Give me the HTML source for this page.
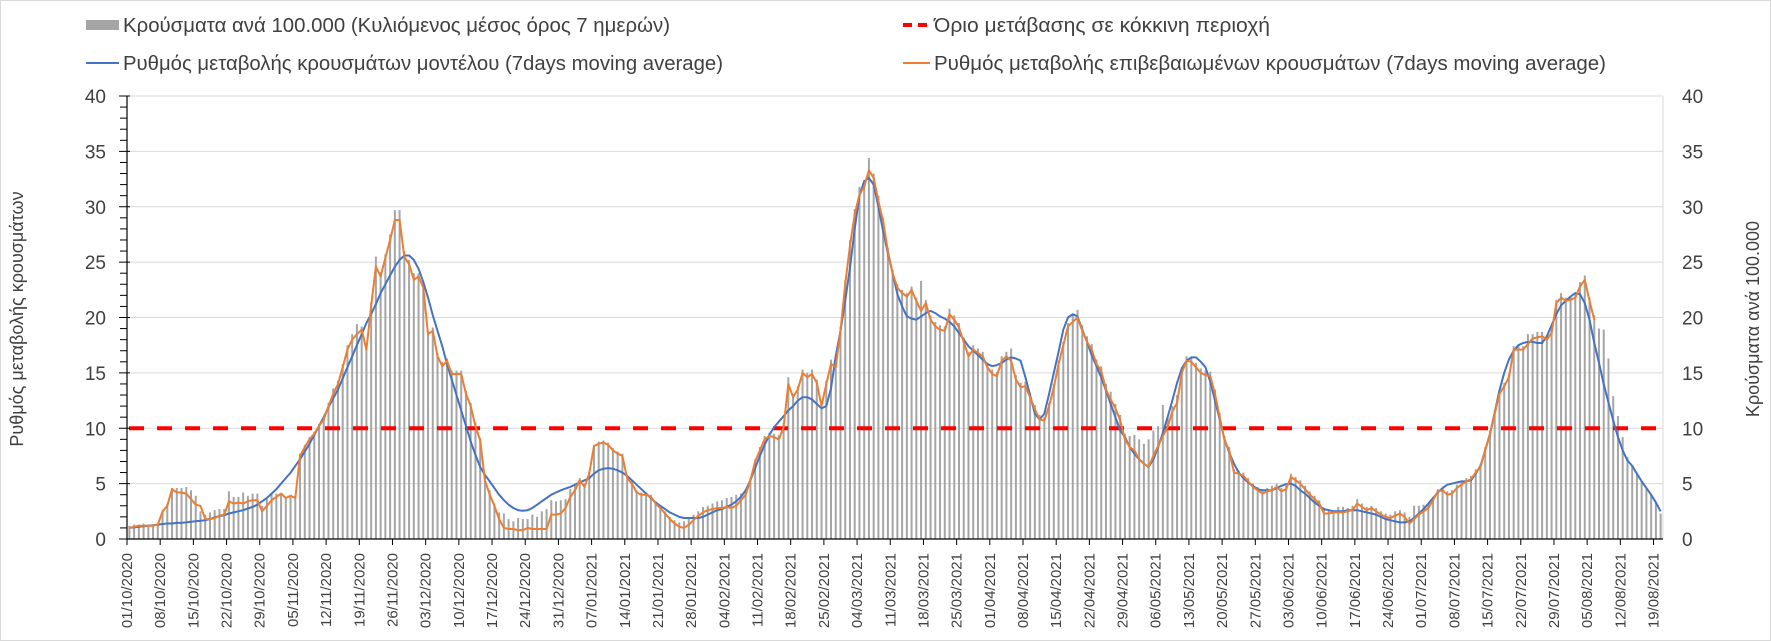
<!DOCTYPE html>
<html><head><meta charset="utf-8"><style>
html,body{margin:0;padding:0;background:#fff;}
#wrap{position:relative;width:1771px;height:641px;overflow:hidden;}
svg{position:absolute;left:0;top:0;}
text{font-family:"Liberation Sans","DejaVu Sans",sans-serif;fill:#404040;}
</style></head><body>
<div id="wrap">
<svg id="chart" width="1771" height="641">
<rect x="0.5" y="0.5" width="1770" height="640" fill="#fff" stroke="#d9d9d9"/>
<g id="grid"></g>
<g id="bars"></g>
<g id="thresh"></g>
<g id="lines"></g>
<g id="axes"></g>
<g>
 <rect x="86" y="20" width="33" height="10" fill="#a5a5a5"/>
 <text x="123" y="32" font-size="20" textLength="547" lengthAdjust="spacingAndGlyphs">Κρούσματα ανά 100.000 (Κυλιόμενος μέσος όρος 7 ημερών)</text>
 <line x1="903" y1="25" x2="930" y2="25" stroke="#ff0000" stroke-width="4" stroke-dasharray="9,6"/>
 <text x="934" y="32" font-size="20" textLength="336" lengthAdjust="spacingAndGlyphs">Όριο μετάβασης σε κόκκινη περιοχή</text>
 <line x1="86" y1="63" x2="119" y2="63" stroke="#4472c4" stroke-width="2"/>
 <text x="123" y="70" font-size="20" textLength="600" lengthAdjust="spacingAndGlyphs">Ρυθμός μεταβολής κρουσμάτων μοντέλου (7days moving average)</text>
 <line x1="903" y1="63" x2="930" y2="63" stroke="#ed7d31" stroke-width="2"/>
 <text x="934" y="70" font-size="20" textLength="672" lengthAdjust="spacingAndGlyphs">Ρυθμός μεταβολής επιβεβαιωμένων κρουσμάτων (7days moving average)</text>
</g>
<text transform="translate(23,319) rotate(-90)" text-anchor="middle" font-size="18">Ρυθμός μεταβολής κρουσμάτων</text>
<text transform="translate(1759,319) rotate(-90)" text-anchor="middle" font-size="18">Κρούσματα ανά 100.000</text>
</svg>
</div>
<script>
const yTicks = [0,5,10,15,20,25,30,35,40];
const threshold = 10;
const startDate = [2020, 9, 1];
const barValues = [
1.2,1.3,1.3,1.4,1.3,1.3,1.4, 2.6,3.2,4.6,4.6,4.6,4.7,4.4, 3.9,2.5,2.2,2.4,2.6,2.7,2.7, 4.3,3.8,3.8,4.2,3.9,4.1,4.1,
3.0,3.6,4.1,4.1,4.0,3.8,4.0, 3.9,7.7,8.5,9.2,9.7,10.4,11.0, 12.3,13.6,14.3,15.8,17.5,18.5,19.4, 19.2,17.5,21.4,25.5,24.1,25.7,27.5,
29.7,29.7,26.0,25.2,24.0,24.0,23.0, 18.8,19.1,16.8,16.0,16.3,15.2,15.2, 15.2,13.4,12.3,10.5,9.1,5.6,4.4, 3.2,2.4,2.3,1.8,1.6,1.9,1.8,
1.8,2.2,2.0,2.5,2.7,3.5,3.4, 3.5,3.6,4.5,4.8,5.5,5.0,6.1, 8.5,8.8,8.9,8.7,8.2,7.9,7.7, 5.7,5.2,4.4,4.2,4.2,4.0,3.4,
3.0,2.5,2.0,1.7,1.5,1.6,1.9, 2.2,2.5,2.9,3.0,3.2,3.4,3.5, 3.7,3.8,4.0,4.1,4.5,5.5,7.2, 8.3,9.3,9.6,9.5,9.4,10.5,14.6,
13.1,13.8,15.3,15.0,15.3,14.4,12.3, 14.3,16.2,16.0,19.2,23.4,27.0,29.8, 31.8,32.4,34.4,33.0,31.0,29.0,26.3, 24.3,23.0,22.5,22.2,22.8,21.8,23.3,
21.6,20.2,19.6,19.3,19.2,20.8,20.2, 19.5,18.2,16.9,17.5,17.2,16.9,15.9, 15.3,15.1,16.5,16.9,17.2,14.8,14.1, 14.2,13.2,12.1,11.2,11.0,12.3,14.0,
16.1,17.8,19.5,20.2,20.7,19.3,18.3, 17.6,16.2,15.6,14.0,13.3,12.2,11.2, 9.5,9.3,9.4,9.0,8.6,9.0,9.8, 10.2,12.1,11.0,12.0,13.0,15.5,16.5,
16.4,15.9,15.4,15.2,15.1,13.5,11.4, 9.3,8.3,6.3,6.2,6.0,5.5,5.0, 4.7,4.4,4.6,4.8,5.0,4.6,4.8, 5.9,5.6,5.3,4.8,4.3,3.9,3.5,
2.8,2.7,2.6,2.9,2.9,2.8,3.0, 3.6,3.2,2.9,3.0,2.8,2.5,2.3, 2.2,2.5,2.6,2.4,2.0,3.0,3.0, 3.1,3.2,3.8,4.5,4.7,4.3,4.4,
4.9,5.2,5.5,5.7,6.3,6.8,8.3, 9.8,11.6,13.4,14.1,14.9,17.4,17.4, 17.4,18.5,18.5,18.7,18.7,18.4,18.9, 21.6,22.2,21.8,21.9,22.2,23.2,23.8,
21.8,20.2,19.0,18.9,16.3,12.9,11.1, 9.2,7.4,6.6,5.9,5.2,4.6,4.0, 3.3,2.3
];
const modelValues = [
1.0,1.05,1.1,1.15,1.2,1.25,1.3, 1.35,1.4,1.4,1.45,1.45,1.5,1.55, 1.6,1.65,1.7,1.8,1.95,2.05,2.15, 2.3,2.4,2.5,2.6,2.75,2.9,3.1,
3.4,3.7,4.1,4.5,5.0,5.5,6.0, 6.6,7.2,7.9,8.6,9.4,10.2,11.0, 11.9,12.7,13.5,14.5,15.5,16.5,17.5, 18.5,19.5,20.3,21.2,22.2,23.0,23.8,
24.6,25.2,25.6,25.6,25.2,24.4,23.2, 21.8,20.2,18.8,17.4,15.8,14.4,13.0, 11.6,10.2,8.8,7.6,6.5,5.8,5.2, 4.6,4.0,3.5,3.1,2.8,2.6,2.55,
2.6,2.8,3.1,3.4,3.7,4.0,4.2, 4.4,4.55,4.7,4.9,5.1,5.3,5.5, 5.9,6.2,6.35,6.4,6.35,6.2,6.0, 5.7,5.3,4.9,4.5,4.1,3.7,3.3,
3.0,2.7,2.4,2.2,2.0,1.9,1.9, 1.9,1.9,2.0,2.2,2.4,2.6,2.7, 2.9,3.1,3.4,3.8,4.4,5.3,6.4, 7.5,8.5,9.4,10.1,10.6,11.1,11.6,
12.0,12.5,12.8,12.8,12.6,12.2,11.8, 12.0,13.6,16.5,18.8,21.5,24.5,28.0, 31.0,32.3,32.6,32.0,30.0,27.8,25.8, 24.0,22.1,21.0,20.1,19.9,19.8,20.1,
20.4,20.6,20.4,20.1,19.9,19.6,19.2, 18.6,18.0,17.4,17.0,16.6,16.2,15.8, 15.6,15.7,15.9,16.2,16.4,16.3,16.1, 14.6,13.0,11.3,10.8,11.3,13.1,15.0,
16.9,18.9,20.0,20.3,20.1,18.9,17.8, 16.6,15.6,14.6,13.4,12.2,11.0,9.8, 9.2,8.3,7.7,7.2,6.8,6.5,7.2, 8.3,9.6,11.0,12.5,14.1,15.4,16.1,
16.4,16.4,16.0,15.5,14.2,12.5,10.8, 9.0,7.8,6.8,6.0,5.5,5.1,4.8, 4.5,4.4,4.4,4.4,4.6,4.8,4.95, 5.0,4.8,4.4,4.1,3.7,3.3,3.0,
2.7,2.6,2.5,2.5,2.5,2.6,2.6, 2.6,2.5,2.4,2.3,2.2,2.0,1.8, 1.7,1.6,1.5,1.5,1.6,1.9,2.3, 2.7,3.2,3.7,4.2,4.6,4.9,5.0,
5.1,5.2,5.2,5.3,5.9,6.6,8.0, 9.5,11.4,13.4,15.0,16.2,17.0,17.5, 17.7,17.8,17.8,17.7,17.7,18.3,19.3, 20.3,21.1,21.5,21.9,22.2,22.1,21.3,
19.8,17.7,15.9,14.0,12.3,10.7,9.2, 8.0,7.1,6.6,5.9,5.2,4.6,4.0, 3.3,2.5
];
const confirmedValues = [
1.0,1.1,1.2,1.2,1.2,1.2,1.3, 2.5,3.0,4.5,4.2,4.2,4.1,3.6, 3.1,3.0,1.8,1.8,1.9,2.1,2.2, 3.4,3.2,3.3,3.2,3.4,3.5,3.5,
2.5,3.0,3.5,3.8,4.1,3.7,3.9, 3.7,7.5,8.3,9.0,9.5,10.2,10.8, 12.0,13.1,14.0,15.5,17.1,18.0,18.5, 18.9,17.1,21.0,24.6,23.7,25.4,27.0,
28.8,28.8,25.5,24.8,23.4,23.7,22.7, 18.5,18.8,16.5,15.6,16.1,14.9,14.9, 14.9,13.1,12.0,10.2,8.9,5.3,4.0, 3.0,1.8,1.0,0.9,0.9,0.8,0.8,
1.0,0.9,0.9,0.9,0.9,2.2,2.2, 2.3,2.8,3.8,4.4,5.3,4.7,5.9, 8.4,8.6,8.7,8.5,8.0,7.7,7.5, 5.5,5.0,4.2,4.0,4.0,3.8,3.2,
2.8,2.3,1.8,1.4,1.1,1.0,1.3, 1.7,2.1,2.4,2.6,2.7,2.8,2.8, 2.9,2.8,3.0,3.5,4.0,5.3,7.0, 8.0,9.0,9.3,9.2,9.0,10.1,14.0,
12.8,13.5,15.0,14.6,14.9,14.1,12.0, 14.0,15.8,15.5,18.8,23.0,26.5,29.3, 31.1,31.8,33.3,32.6,30.5,28.7,26.0, 24.0,22.7,22.2,21.9,22.5,21.5,20.6,
21.3,19.8,19.2,18.9,18.8,20.3,19.8, 19.1,17.8,16.5,17.1,16.8,16.5,15.5, 14.9,14.7,16.1,16.5,16.1,14.4,13.7, 13.8,12.8,11.7,10.8,10.7,12.0,13.7,
15.8,17.5,19.2,19.6,20.0,18.8,17.8, 17.1,15.8,15.2,13.5,12.6,11.8,10.7, 9.0,8.3,8.0,7.2,6.8,6.5,7.5, 8.4,9.3,10.1,11.5,12.3,15.0,16.1,
16.0,15.5,15.0,14.8,14.7,13.1,11.0, 8.9,8.0,6.0,5.9,5.7,5.2,4.7, 4.4,4.1,4.3,4.4,4.7,4.3,4.5, 5.6,5.3,5.0,4.5,4.0,3.6,3.2,
2.3,2.3,2.4,2.4,2.4,2.5,2.6, 3.2,2.9,2.6,2.8,2.5,2.2,2.0, 1.9,2.1,2.3,2.0,1.4,1.8,2.2, 2.5,2.8,3.5,4.3,4.4,4.0,4.1,
4.6,4.9,5.2,5.4,6.0,6.5,8.0, 9.5,11.3,13.1,13.8,14.6,17.1,17.1, 17.1,17.6,18.1,18.2,18.3,18.0,18.6, 21.3,21.8,21.5,21.6,21.8,22.8,23.4,
21.5,19.8
];

const NS = 'http://www.w3.org/2000/svg';
const X0 = 127, X1 = 1663, Y0 = 539, YTOP = 96, YMAX = 40;
const nDays = 324;
const dayW = (X1 - X0) / nDays;
function xScale(d){ return X0 + dayW * (d + 0.5); }
function yScale(v){ return Y0 - (v / YMAX) * (Y0 - YTOP); }
function mk(tag, attrs, parent){ const e = document.createElementNS(NS, tag); for (const k in attrs) e.setAttribute(k, attrs[k]); parent.appendChild(e); return e; }
function fmtDate(d){
  const dt = new Date(startDate[0], startDate[1], startDate[2] + d);
  const p = n => (n < 10 ? '0' : '') + n;
  return p(dt.getDate()) + '/' + p(dt.getMonth() + 1) + '/' + dt.getFullYear();
}

const grid = document.getElementById('grid');
yTicks.forEach(t => {
  if (t === 0) return;
  const l = mk('line', {x1: X0, x2: X1, y1: yScale(t), y2: yScale(t), stroke: '#d9d9d9', 'stroke-width': 1}, grid);
  
  
});
mk('line', {x1: X1, x2: X1, y1: YTOP, y2: Y0, stroke: '#d9d9d9', 'stroke-width': 1}, grid);

const barsG = document.getElementById('bars');
barValues.forEach((v, i) => {
  const y = yScale(v);
  const b = mk('rect', {x: xScale(i) - 1, y: y, width: 2, height: Y0 - y, fill: '#a5a5a5'}, barsG);
  
  
});

const th = document.getElementById('thresh');
const tl = mk('line', {x1: X0 + 2, x2: X1, y1: yScale(threshold), y2: yScale(threshold), stroke: '#ff0000', 'stroke-width': 4, 'stroke-dasharray': '15,13'}, th);



const linesG = document.getElementById('lines');
function drawLine(vals, color, name){
  const pts = vals.map((v, i) => xScale(i).toFixed(1) + ',' + yScale(v).toFixed(1)).join(' ');
  const p = mk('polyline', {points: pts, fill: 'none', stroke: color, 'stroke-width': 2, 'stroke-linejoin': 'round'}, linesG);
  
  
}
drawLine(modelValues, '#4472c4', 'model-rate-line');
drawLine(confirmedValues, '#ed7d31', 'confirmed-rate-line');

const ax = document.getElementById('axes');
mk('line', {x1: X0, x2: X0, y1: YTOP, y2: Y0, stroke: '#000', 'stroke-width': 1.2}, ax);
mk('line', {x1: X0, x2: X1, y1: Y0, y2: Y0, stroke: '#000', 'stroke-width': 1.2}, ax);
for (let v = 0; v <= YMAX; v++) {
  const major = v % 5 === 0;
  mk('line', {x1: major ? X0 - 8 : X0 - 7, x2: major ? X0 + 3 : X0, y1: yScale(v), y2: yScale(v), stroke: '#000', 'stroke-width': 1}, ax);
}
yTicks.forEach(t => {
  const a = mk('text', {x: 106, y: yScale(t) + 7, 'text-anchor': 'end', 'font-size': 19}, ax);
  a.textContent = t;
  
  
  const b = mk('text', {x: 1682, y: yScale(t) + 7, 'text-anchor': 'start', 'font-size': 19}, ax);
  b.textContent = t;
  
  
});
for (let d = 0; d < nDays; d += 7) {
  const x = X0 + dayW * d;
  mk('line', {x1: x, x2: x, y1: Y0, y2: Y0 + 6, stroke: '#000', 'stroke-width': 1}, ax);
  const t = mk('text', {transform: 'translate(' + (x + 5) + ',' + 553 + ') rotate(-90)', 'text-anchor': 'end', 'font-size': 15}, ax);
  t.textContent = fmtDate(d);
  
  
}
</script>
</body></html>
